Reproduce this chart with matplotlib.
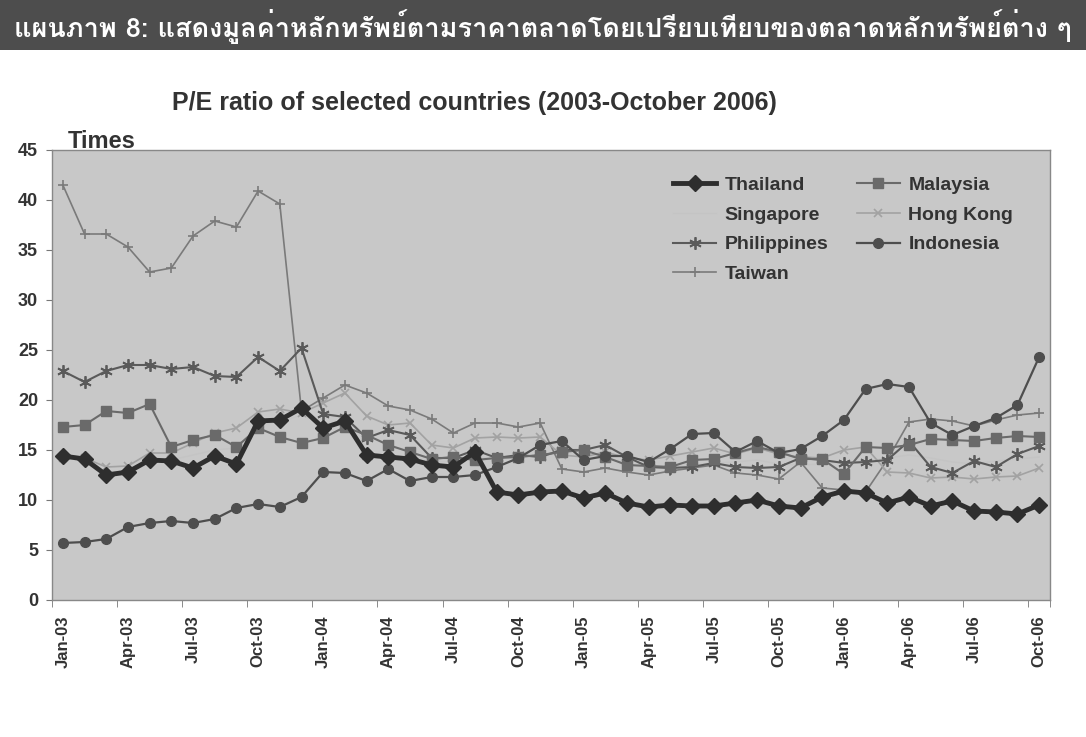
import matplotlib
matplotlib.use("Agg")
import matplotlib.pyplot as plt
from matplotlib import font_manager as fm
from matplotlib.ft2font import FT2Font
from matplotlib.patches import Rectangle

# monthly labels Jan-03 .. Oct-06 (46 points), every 3rd shown
months = ["Jan", "Feb", "Mar", "Apr", "May", "Jun", "Jul", "Aug", "Sep", "Oct", "Nov", "Dec"]
labels = [f"{months[i % 12]}-{3 + i // 12:02d}" for i in range(46)]

thailand = [14.4, 14.1, 12.5, 12.8, 14.0, 13.9, 13.2, 14.4, 13.6, 17.9,
            18.0, 19.2, 17.2, 17.9, 14.5, 14.3, 14.1, 13.5, 13.3, 14.8,
            10.8, 10.5, 10.8, 10.9, 10.2, 10.7, 9.7, 9.3, 9.5, 9.4,
            9.4, 9.7, 10.0, 9.4, 9.2, 10.3, 10.9, 10.7, 9.7, 10.3,
            9.4, 9.9, 8.9, 8.8, 8.6, 9.5]
malaysia = [17.3, 17.5, 18.9, 18.7, 19.6, 15.3, 16.0, 16.5, 15.3, 17.2,
            16.3, 15.7, 16.2, 17.3, 16.5, 15.5, 14.8, 14.1, 14.3, 14.0,
            14.2, 14.3, 14.5, 14.8, 15.0, 14.3, 13.5, 13.4, 13.3, 14.0,
            14.1, 14.7, 15.3, 14.8, 14.1, 14.1, 12.6, 15.3, 15.2, 15.5,
            16.1, 16.0, 15.9, 16.2, 16.4, 16.3]
singapore = [14.5, 14.0, 12.8, 13.0, 13.9, 14.0, 14.5, 15.0, 15.2, 17.5,
             17.8, 18.5, 17.5, 17.8, 14.6, 14.4, 14.4, 13.9, 13.8, 14.4,
             14.0, 14.3, 14.5, 14.7, 14.5, 14.2, 13.8, 13.4, 13.4, 13.5,
             13.7, 13.8, 14.0, 13.6, 13.5, 13.6, 13.8, 13.9, 14.2, 14.5,
             14.2, 13.8, 13.6, 13.9, 14.1, 14.3]
hongkong = [14.2, 14.2, 13.3, 13.4, 14.7, 14.7, 15.7, 16.7, 17.2, 18.8,
            19.1, 18.7, 19.7, 20.7, 18.4, 17.5, 17.7, 15.5, 15.2, 16.2,
            16.3, 16.2, 16.3, 14.5, 14.3, 14.8, 14.2, 14.0, 14.4, 14.8,
            15.2, 14.6, 15.2, 14.6, 14.3, 14.2, 15.0, 15.3, 12.8, 12.7,
            12.2, 12.3, 12.1, 12.3, 12.4, 13.2]
philippines = [22.9, 21.8, 22.9, 23.5, 23.5, 23.1, 23.3, 22.4, 22.3, 24.3,
               22.9, 25.2, 18.6, 18.3, 16.2, 17.0, 16.5, 14.2, 14.2, 15.0,
               14.2, 14.5, 14.3, 15.0, 15.0, 15.5, 14.3, 13.3, 13.2, 13.3,
               13.7, 13.3, 13.2, 13.3, 14.2, 14.0, 13.7, 13.8, 14.0, 15.9,
               13.3, 12.7, 13.9, 13.3, 14.6, 15.4]
indonesia = [5.7, 5.8, 6.1, 7.3, 7.7, 7.9, 7.7, 8.1, 9.2, 9.6,
             9.3, 10.3, 12.8, 12.7, 11.9, 13.1, 11.9, 12.3, 12.3, 12.5,
             13.3, 14.2, 15.5, 15.9, 14.0, 14.4, 14.4, 13.8, 15.1, 16.6,
             16.7, 14.8, 15.9, 14.7, 15.1, 16.4, 18.0, 21.1, 21.6, 21.3,
             17.7, 16.5, 17.4, 18.2, 19.5, 24.3]
taiwan = [41.5, 36.6, 36.6, 35.3, 32.8, 33.2, 36.4, 37.9, 37.3, 40.9,
          39.6, 18.9, 20.2, 21.5, 20.7, 19.4, 19.0, 18.1, 16.7, 17.7,
          17.7, 17.3, 17.7, 13.1, 12.8, 13.2, 12.8, 12.5, 12.9, 13.2,
          13.5, 12.7, 12.5, 12.1, 13.8, 11.2, 11.0, 10.8, 14.0, 17.8,
          18.1, 17.9, 17.4, 18.0, 18.5, 18.7]

title_th = "แผนภาพ 8: แสดงมูลค่าหลักทรัพย์ตามราคาตลาดโดยเปรียบเทียบของตลาดหลักทรัพย์ต่าง ๆ"
subtitle = "P/E ratio of selected countries (2003-October 2006)"


def thai_family():
    # pick any installed font that actually has Thai glyphs
    for f in fm.fontManager.ttflist:
        try:
            if 0x0E41 in FT2Font(f.fname).get_charmap():
                return f.name
        except Exception:
            pass
    return "DejaVu Sans"


plt.rcParams["font.family"] = ["Liberation Sans", "DejaVu Sans"]
plt.rcParams["font.weight"] = "bold"

x = list(range(len(labels)))
fig = plt.figure(figsize=(10.86, 7.37), dpi=100)

# dark title band
fig.patches.append(Rectangle((0, 1 - 50 / 737), 1, 50 / 737, transform=fig.transFigure,
                             facecolor="#4d4d4d", edgecolor="none", zorder=0))
fig.text(0.5, 1 - 27 / 737, title_th, color="white", fontsize=19.5, fontweight="bold",
         ha="center", va="center", family=[thai_family(), "DejaVu Sans"])
fig.text(0.437, 1 - 103 / 737, subtitle, color="#333333", fontsize=18, fontweight="bold",
         ha="center", va="center")

ax = fig.add_axes([52 / 1086, 1 - 600 / 737, 998 / 1086, 450 / 737])
ax.set_facecolor("#c8c8c8")
fig.text(68 / 1086, 1 - 142 / 737, "Times", color="#333333", fontsize=17, fontweight="bold",
         ha="left", va="center")

ax.plot(x, singapore, color="#c4c4c4", lw=1, label="Singapore", zorder=1)
ax.plot(x, singapore, ls="none", marker="^", ms=7, mfc="white", mec="#888888",
        markevery=[14, 15], zorder=2)
ax.plot(x, taiwan, color="#7a7a7a", lw=1.2, marker="+", ms=7, mew=1.2, label="Taiwan", zorder=3)
ax.plot(x, hongkong, color="#a2a2a2", lw=1.2, marker="x", ms=6, mew=1.2, label="Hong Kong", zorder=3)
ax.plot(x, philippines, color="#5a5a5a", lw=1.5, marker=(6, 2, 0), ms=9, mew=1.3,
        label="Philippines", zorder=4)
ax.plot(x, malaysia, color="#6a6a6a", lw=1.5, marker="s", ms=7, label="Malaysia", zorder=4)
ax.plot(x, indonesia, color="#4e4e4e", lw=1.6, marker="o", ms=7, label="Indonesia", zorder=5)
ax.plot(x, thailand, color="#2e2e2e", lw=3.5, marker="D", ms=8, label="Thailand", zorder=6)

ax.set_xlim(-0.5, len(labels) - 0.5)
ax.set_ylim(0, 45)
ax.set_yticks(range(0, 46, 5))
ax.set_xticks(x[::3])
ax.set_xticklabels(labels[::3], rotation=90)
ax.set_xticks([i - 0.5 for i in range(0, 46, 3)] + [45.5], minor=True)
ax.tick_params(axis="x", which="major", length=0, pad=11, labelsize=12, colors="#333333")
ax.tick_params(axis="x", which="minor", length=5, color="#777777")
ax.tick_params(axis="y", length=4, color="#777777", labelsize=13, labelcolor="#333333", pad=6)
for s in ax.spines.values():
    s.set_color("#888888")
    s.set_linewidth(1)

order = ["Thailand", "Singapore", "Philippines", "Taiwan", "Malaysia", "Hong Kong", "Indonesia"]
h, l = ax.get_legend_handles_labels()
hd = dict(zip(l, h))
leg = ax.legend([hd[k] for k in order], order, ncol=2, loc="upper left",
                bbox_to_anchor=(0.605, 0.98), frameon=False, fontsize=14,
                labelcolor="#333333", handlelength=2.2, columnspacing=1.45,
                labelspacing=0.62, handletextpad=0.45)

fig.savefig("out.png", dpi=100)
